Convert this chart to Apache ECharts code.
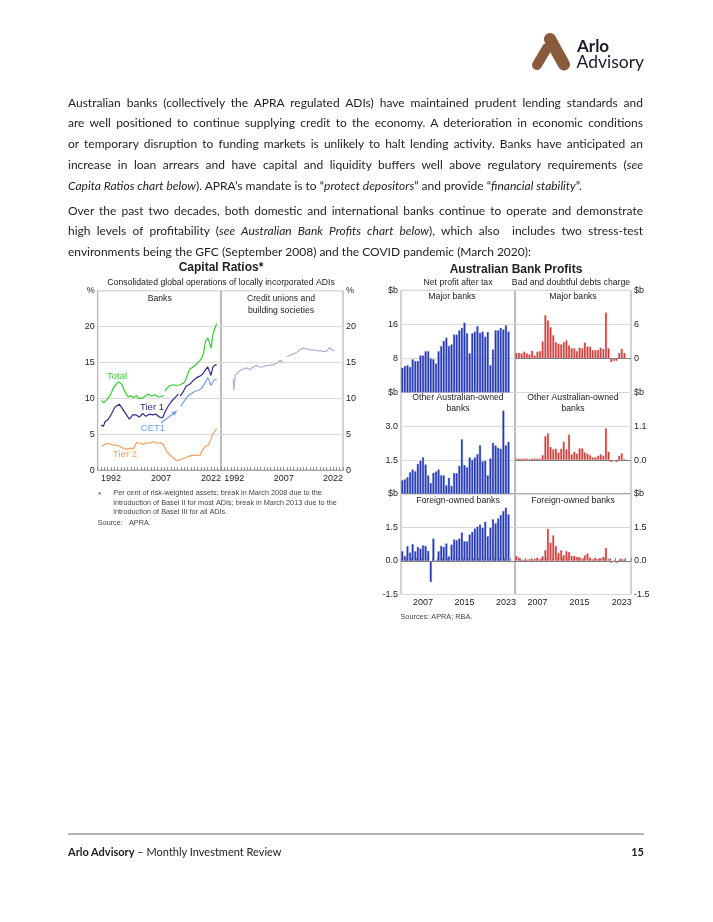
<!DOCTYPE html>
<html><head><meta charset="utf-8">
<script src="https://cdn.jsdelivr.net/npm/echarts/dist/echarts.min.js"></script>
<style>
html,body{margin:0;padding:0;background:#fff;width:713px;height:922px;overflow:hidden;}
#chart{position:absolute;left:0;top:0;width:713px;height:922px;}
.p{position:absolute;left:68px;width:575px;font-family:Lato,"Noto Sans",sans-serif;font-size:12px;color:#1e1e1e;}
.l{white-space:nowrap;text-align:justify;text-align-last:justify;height:20.8px;line-height:20.8px;}
.last{text-align-last:left;}
#logo{position:absolute;left:525px;top:28px;}
#footline{position:absolute;left:68px;top:833px;width:576px;height:2px;background:#b5b5b5;}
#foot{position:absolute;left:68px;top:843.5px;width:576px;font-family:Lato,"Noto Sans",sans-serif;font-size:11px;color:#222;line-height:15px;}
#foot b{font-weight:700;}
#pg{position:absolute;right:0;top:0;font-weight:700;}
</style></head>
<body>
<div id="chart"></div>
<svg id="logo" width="125" height="46" viewBox="525 28 125 46">
  <line x1="550" y1="39" x2="564" y2="64.5" stroke="#8a5a3c" stroke-width="12" stroke-linecap="round"/>
  <line x1="547" y1="48" x2="537" y2="65" stroke="#8a5a3c" stroke-width="10" stroke-linecap="round"/>
  <text x="577" y="51.5" font-family="Lato, sans-serif" font-weight="700" font-size="17" fill="#161a2b">Arlo</text>
  <text x="576.5" y="67.5" font-family="Lato, sans-serif" font-size="17.5" fill="#161a2b">Advisory</text>
</svg>
<div class="p" style="top:92.6px">
<div class="l">Australian banks (collectively the APRA regulated ADIs) have maintained prudent lending standards and</div>
<div class="l">are well positioned to continue supplying credit to the economy. A deterioration in economic conditions</div>
<div class="l">or temporary disruption to funding markets is unlikely to halt lending activity. Banks have anticipated an</div>
<div class="l">increase in loan arrears and have capital and liquidity buffers well above regulatory requirements (<i>see</i></div>
<div class="l last"><i>Capita Ratios chart below</i>). APRA’s mandate is to “<i>protect depositors</i>” and provide “<i>financial stability</i>”.</div>
</div>
<div class="p" style="top:200.6px">
<div class="l">Over the past two decades, both domestic and international banks continue to operate and demonstrate</div>
<div class="l">high levels of profitability (<i>see Australian Bank Profits chart below</i>), which also&nbsp; includes two stress-test</div>
<div class="l last">environments being the GFC (September 2008) and the COVID pandemic (March 2020):</div>
</div>
<div id="footline"></div>
<div id="foot"><b>Arlo Advisory</b> – Monthly Investment Review<span id="pg">15</span></div>
<script>
// ---------- Capital Ratios data (year, per cent) ----------
const capLabelYears = [1992, 2007, 2022];
const totalRatio = [[1989.2,9.7],[1989.7,9.4],[1990.2,9.6],[1990.7,9.8],[1991.2,10.0],[1991.7,10.4],[1992.2,10.9],[1992.7,11.4],[1993.2,11.8],[1993.7,12.0],[1994.2,12.3],[1994.7,12.3],[1995.2,12.0],[1995.5,11.8],[1996.2,10.9],[1996.7,10.5],[1997.2,10.2],[1997.9,10.4],[1998.7,10.1],[1999.2,10.3],[1999.7,10.4],[2000.2,10.0],[2000.7,10.2],[2001.2,10.0],[2001.7,10.1],[2002.2,10.3],[2002.7,10.4],[2003.2,10.6],[2003.7,10.5],[2004.2,10.3],[2004.7,10.4],[2005.2,10.5],[2005.7,10.3],[2006.2,10.2],[2006.7,10.2],[2007.2,10.3],[2007.9,10.4],[2008.2,'-'],[2008.3,11.0],[2008.7,11.4],[2009.2,11.6],[2009.7,11.8],[2010.2,11.9],[2010.7,11.9],[2011.2,11.7],[2011.7,11.8],[2012.2,11.9],[2012.7,11.9],[2013.2,12.0],[2013.7,12.1],[2014.2,12.4],[2014.7,13.0],[2015.2,13.6],[2015.7,14.1],[2016.2,14.3],[2016.7,14.4],[2017.2,14.6],[2017.7,14.8],[2018.2,15.0],[2018.7,15.3],[2019.2,15.6],[2019.7,16.2],[2020.0,17.0],[2020.4,18.0],[2021.0,18.4],[2021.5,17.8],[2022.0,17.0],[2022.5,18.7],[2023.0,19.6],[2023.7,20.4]];
const tier1Ratio = [[1989.0,6.3],[1989.7,6.1],[1990.2,6.75],[1991.2,7.1],[1992.2,7.9],[1993.2,8.8],[1994.5,9.2],[1995.5,8.5],[1996.5,7.8],[1997.5,7.1],[1998.5,7.7],[1999.5,7.7],[2000.5,7.4],[2001.5,7.9],[2002.5,7.5],[2003.5,7.8],[2004.5,7.7],[2005.5,7.8],[2006.5,7.4],[2007.5,7.3],[2008.2,8.1],[2009.0,8.8],[2010.0,9.5],[2011.0,10.0],[2012.2,10.6],[2012.5,'-'],[2012.7,10.3],[2013.5,10.8],[2014.5,11.7],[2015.7,12.0],[2016.7,12.5],[2017.7,12.9],[2018.7,13.1],[2019.5,13.4],[2020.4,14.0],[2021.0,14.4],[2021.5,13.8],[2022.0,13.2],[2022.5,14.3],[2023.0,14.6],[2023.7,14.7]];
const cet1Ratio = [[2012.9,8.9],[2013.5,9.3],[2014.2,9.8],[2015.2,10.4],[2016.2,10.7],[2017.2,11.0],[2018.2,11.1],[2019.2,11.4],[2020.4,12.3],[2021.0,12.9],[2021.5,12.4],[2022.0,11.8],[2022.5,12.0],[2023.0,12.6],[2023.7,12.65]];
const tier2Ratio = [[1989.2,3.3],[1989.7,3.5],[1990.7,3.75],[1991.7,3.65],[1992.7,3.5],[1993.7,3.5],[1994.7,3.3],[1995.7,3.07],[1996.7,2.9],[1997.7,3.07],[1998.7,3.0],[1999.7,3.85],[2000.7,3.75],[2001.7,3.6],[2002.7,3.85],[2003.7,3.75],[2004.7,4.0],[2005.7,3.75],[2006.7,3.85],[2007.7,3.6],[2008.7,2.6],[2010.2,1.9],[2011.7,1.36],[2012.7,1.45],[2014.2,1.7],[2015.7,2.0],[2016.7,2.1],[2017.7,2.05],[2018.7,2.1],[2019.5,2.8],[2020.2,3.3],[2021.2,3.5],[2021.9,4.2],[2022.6,5.1],[2023.7,5.8]];
const creditUnionRatio = [[1991.7,12.7],[1991.9,11.1],[1992.3,13.2],[1992.9,13.5],[1993.8,13.9],[1994.8,14.1],[1995.8,14.25],[1996.8,14.0],[1997.8,14.4],[1998.8,14.6],[1999.8,14.35],[2000.8,14.4],[2001.8,14.6],[2002.8,14.6],[2003.9,14.7],[2004.9,14.9],[2005.9,15.3],[2006.9,15.0],[2007.4,'-'],[2007.9,15.8],[2008.9,16.0],[2009.9,16.2],[2010.9,16.4],[2011.9,16.75],[2012.9,17.0],[2014.0,16.9],[2015.0,16.75],[2016.0,16.75],[2017.0,16.65],[2018.0,16.65],[2019.0,16.55],[2020.0,16.55],[2021.0,17.1],[2021.5,16.75],[2022.5,16.65]];

// ---------- Bank profits data (half-years, $b) ----------
const halfYears = [];
for (let y = 2003; y <= 2024; y++) { halfYears.push(y + ' H1', y + ' H2'); }
const profitLabels = {'2007 H1':'2007','2015 H1':'2015','2023 H1':'2023'};
const majorProfit = [5.8,6.2,6.4,6.0,7.8,7.4,7.4,8.7,8.7,9.7,9.7,8.0,7.8,6.8,9.7,10.9,12.1,12.9,10.9,11.3,13.6,13.6,14.6,15.2,16.4,13.9,9.2,13.9,14.3,15.6,14.0,14.3,13.1,14.2,6.4,10.1,14.6,14.6,15.2,14.8,15.8,14.3];
const majorBadDebts = [1.0,1.0,0.9,1.2,0.9,0.7,1.35,0.5,1.2,1.3,3.0,7.6,6.7,5.5,4.1,2.9,2.6,2.5,2.9,3.2,2.3,1.8,1.8,1.3,1.9,1.8,2.8,2.1,2.1,1.5,1.5,1.5,1.9,1.7,8.1,1.8,-0.65,-0.45,-0.45,1.0,1.7,1.0];
const otherAusProfit = [0.6,0.64,0.74,0.96,1.08,1.0,1.33,1.47,1.62,1.3,0.82,0.48,0.93,0.99,1.08,0.82,0.82,0.38,0.71,0.35,0.92,0.92,1.24,2.42,1.28,1.18,1.62,1.51,1.62,1.76,2.15,1.44,1.47,0.82,1.57,2.27,2.15,2.05,2.0,3.7,2.15,2.31];
const otherAusBadDebts = [0.05,0.05,0.05,0.05,0.05,0.03,0.05,0.05,0.05,0.05,0.16,0.78,0.87,0.43,0.35,0.37,0.25,0.37,0.6,0.35,0.83,0.19,0.27,0.21,0.38,0.38,0.25,0.21,0.16,0.09,0.09,0.14,0.19,0.14,1.03,0.27,-0.07,-0.02,-0.07,0.14,0.22,0.03];
const foreignProfit = [0.43,0.22,0.66,0.37,0.75,0.43,0.63,0.55,0.7,0.67,0.45,-0.94,1.0,0.02,0.43,0.67,0.63,0.78,0.21,0.73,0.96,0.93,1.0,1.27,0.88,0.88,1.18,1.3,1.45,1.53,1.63,1.48,1.75,1.1,1.48,1.86,1.68,1.9,2.05,2.23,2.38,2.08];
const foreignBadDebts = [0.23,0.15,0.06,0.06,0.06,0.08,0.08,0.1,0.14,0.08,0.21,0.48,1.44,0.82,1.14,0.67,0.36,0.48,0.26,0.44,0.41,0.23,0.23,0.18,0.18,0.1,0.26,0.33,0.15,0.08,0.14,0.1,0.12,0.18,0.59,0.1,-0.09,0.03,-0.09,0.06,0.08,0.08];

const FONT = '"Liberation Sans", Arial, sans-serif';
const TXT = '#222';
const GRIDC = '#d9d9d9';
const BORDER = '#a6a6a6';
const BLUE = '#1f33ad';
const RED = '#cc3434';

const chart = echarts.init(document.getElementById('chart'), null, {renderer:'canvas'});

function near(a, b) { return Math.abs(a - b) < 1e-6; }
function yFmt(top, bottom, dec, showBottom) {
  return function (v) {
    if (near(v, top)) return '$b';
    if (near(v, bottom) && !showBottom) return '';
    return dec ? v.toFixed(dec) : String(Math.round(v));
  };
}
const gridBase = {show:true, borderColor:BORDER, borderWidth:1, containLabel:false, outerBoundsMode:'none', backgroundColor:'transparent'};
const grids = [
  Object.assign({left:97.7, top:290.7, width:123.3, height:179.5}, gridBase),
  Object.assign({left:221, top:290.7, width:122, height:179.5}, gridBase),
  Object.assign({left:401, top:290.3, width:114, height:102.2}, gridBase),
  Object.assign({left:515, top:290.3, width:116, height:102.2}, gridBase),
  Object.assign({left:401, top:392.5, width:114, height:101.3}, gridBase),
  Object.assign({left:515, top:392.5, width:116, height:101.3}, gridBase),
  Object.assign({left:401, top:493.8, width:114, height:100.7}, gridBase),
  Object.assign({left:515, top:493.8, width:116, height:100.7}, gridBase)
];
const lbl = {fontFamily:FONT, fontSize:9, color:TXT};
const capX = (gi) => ({gridIndex:gi, type:'value', min:1988, max:2025, interval:1,
  axisLine:{show:true, lineStyle:{color:BORDER}},
  axisTick:{show:true, inside:true, length:3, lineStyle:{color:'#888'}},
  axisLabel:Object.assign({margin:4, formatter:(v)=> capLabelYears.includes(v) ? String(v) : ''}, lbl),
  splitLine:{show:false}});
const capY = (gi, pos) => ({gridIndex:gi, type:'value', min:0, max:25, interval:5, position:pos,
  axisLine:{show:false}, axisTick:{show:false},
  axisLabel:Object.assign({margin:3, formatter:(v)=> v===25 ? '%' : String(v)}, lbl),
  splitLine:{show:true, lineStyle:{color:GRIDC, width:1}}});
const barX = (gi, showLab) => ({gridIndex:gi, type:'category', data:halfYears, boundaryGap:true,
  axisLine:{show:showLab, lineStyle:{color:BORDER}},
  axisTick:{show:showLab, inside:true, length:3, interval:1, lineStyle:{color:'#888'}},
  axisLabel:Object.assign({show:showLab, margin:4, interval:(i, v)=> profitLabels[v] !== undefined, formatter:(v)=> profitLabels[v] || ''}, lbl),
  splitLine:{show:false}});
const barY = (gi, pos, min, max, step, dec, showBottom) => ({gridIndex:gi, type:'value', min:min, max:max, interval:step, position:pos,
  axisLine:{show:false}, axisTick:{show:false},
  axisLabel:Object.assign({margin:3, formatter:yFmt(max, min, dec, showBottom)}, lbl),
  splitLine:{show:true, lineStyle:{color:GRIDC, width:1}}});

const zeroLine = {silent:true, symbol:'none', label:{show:false}, lineStyle:{color:'#808080', width:1, type:'solid'}, data:[{yAxis:0}]};
const lineS = (data, color, name) => ({type:'line', name:name, xAxisIndex:0, yAxisIndex:0, data:data, showSymbol:false, symbol:'none', connectNulls:false, lineStyle:{color:color, width:1.2}, animation:false});
const barS = (data, gi, color, edge, zero) => ({type:'bar', xAxisIndex:gi, yAxisIndex:gi, data:data, barCategoryGap:'18%', itemStyle:{color:color, borderColor:edge, borderWidth:0.4}, animation:false, markLine: zero ? zeroLine : undefined});

function T(x, y, text, opt) {
  return {type:'text', x:x, y:y, silent:true, style:Object.assign({text:text, fontFamily:FONT, fontSize:9, fill:TXT, align:'center', verticalAlign:'middle'}, opt || {})};
}
const graphics = [
  T(221, 267.5, 'Capital Ratios*', {fontSize:12, fontWeight:'bold'}),
  T(221, 282.5, 'Consolidated global operations of locally incorporated ADIs', {fontSize:8.7}),
  T(159.7, 298.5, 'Banks', {fontSize:8.7}),
  T(281, 298.5, 'Credit unions and', {fontSize:8.7}),
  T(281, 310.5, 'building societies', {fontSize:8.7}),
  T(117, 376, 'Total', {fontSize:9.5, fill:'#33cc33'}),
  T(152, 407.5, 'Tier 1', {fontSize:9.5, fill:'#2b2b88'}),
  T(153, 428.5, 'CET1', {fontSize:9.5, fill:'#6f9fe6'}),
  T(125, 454, 'Tier 2', {fontSize:9.5, fill:'#f5a05a'}),
  {type:'line', silent:true, shape:{x1:161, y1:423, x2:174, y2:413}, style:{stroke:'#6f9fe6', lineWidth:1.2}},
  {type:'polygon', silent:true, shape:{points:[[177.5,410.5],[171.5,412.2],[174.4,415.8]]}, style:{fill:'#6f9fe6'}},
  T(99.5, 494.5, '*', {fontSize:8, fill:'#444'}),
  T(113.3, 493.3, 'Per cent of risk-weighted assets; break in March 2008 due to the', {fontSize:7.3, fill:'#444', align:'left'}),
  T(113.3, 502.8, 'introduction of Basel II for most ADIs; break in March 2013 due to the', {fontSize:7.3, fill:'#444', align:'left'}),
  T(113.3, 512.1, 'introduction of Basel III for all ADIs.', {fontSize:7.3, fill:'#444', align:'left'}),
  T(97.7, 522.8, 'Source:   APRA.', {fontSize:7.3, fill:'#444', align:'left'}),

  T(516, 269.3, 'Australian Bank Profits', {fontSize:12, fontWeight:'bold'}),
  T(458, 283, 'Net profit after tax', {fontSize:8.7}),
  T(571, 283, 'Bad and doubtful debts charge', {fontSize:8.7}),
  T(452, 297, 'Major banks', {fontSize:8.7}),
  T(573, 297, 'Major banks', {fontSize:8.7}),
  T(458, 398, 'Other Australian-owned', {fontSize:8.7}),
  T(458, 409, 'banks', {fontSize:8.7}),
  T(573, 398, 'Other Australian-owned', {fontSize:8.7}),
  T(573, 409, 'banks', {fontSize:8.7}),
  T(458, 500.5, 'Foreign-owned banks', {fontSize:8.7}),
  T(573, 500.5, 'Foreign-owned banks', {fontSize:8.7}),
  T(400.5, 617, 'Sources: APRA; RBA.', {fontSize:7.3, fill:'#444', align:'left'})
];

chart.setOption({
  animation:false,
  backgroundColor:'transparent',
  grid:grids,
  xAxis:[capX(0), capX(1), barX(2,false), barX(3,false), barX(4,false), barX(5,false), barX(6,true), barX(7,true)],
  yAxis:[capY(0,'left'), capY(1,'right'),
    barY(2,'left',0,24,8,0,false), barY(3,'right',-6,12,6,0,false),
    barY(4,'left',0,4.5,1.5,1,false), barY(5,'right',-1.1,2.2,1.1,1,false),
    barY(6,'left',-1.5,3,1.5,1,true), barY(7,'right',-1.5,3,1.5,1,true)],
  series:[
    lineS(totalRatio, '#33cc33', 'Total'),
    lineS(tier2Ratio, '#f5a05a', 'Tier 2'),
    lineS(cet1Ratio, '#6f9fe6', 'CET1'),
    lineS(tier1Ratio, '#2b2b88', 'Tier 1'),
    Object.assign(lineS(creditUnionRatio, '#b4aed4', 'Credit unions'), {xAxisIndex:1, yAxisIndex:1}),
    barS(majorProfit, 2, BLUE, '#6f7fd8', false),
    barS(majorBadDebts, 3, RED, '#e89a9a', true),
    barS(otherAusProfit, 4, BLUE, '#6f7fd8', false),
    barS(otherAusBadDebts, 5, RED, '#e89a9a', true),
    barS(foreignProfit, 6, BLUE, '#6f7fd8', true),
    barS(foreignBadDebts, 7, RED, '#e89a9a', true)
  ],
  graphic:graphics
});
</script>
</body></html>
